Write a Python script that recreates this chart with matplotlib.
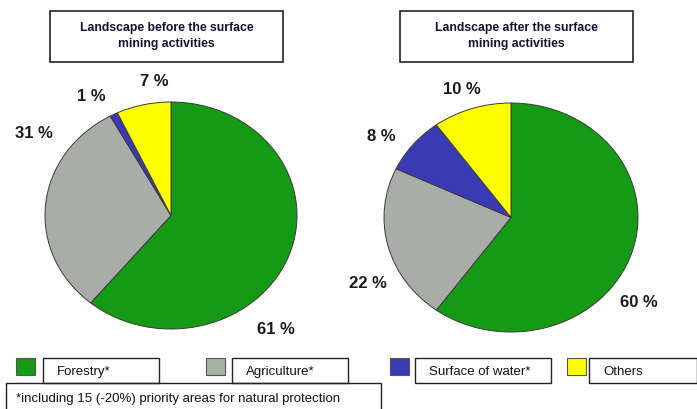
import matplotlib.pyplot as plt
from matplotlib.patches import Rectangle

# Land use shares (%) before / after surface mining
categories = ['Forestry*', 'Agriculture*', 'Surface of water*', 'Others']
before = [61, 31, 1, 7]
after = [60, 22, 8, 10]
colors = ['#159a15', '#a9ada7', '#3a3ab4', '#ffff00']
legend_colors = ['#159a15', '#a9b0a6', '#3a3ab4', '#ffff00']

titles = ['Landscape before the surface\nmining activities',
          'Landscape after the surface\nmining activities']
footnote = '*including 15 (-20%) priority areas for natural protection'

# label spots (pie axes units, radius = 1)
label_pos_before = [(0.83, -1.0), (-1.09, 0.73), (-0.63, 1.06), (-0.13, 1.19)]
label_pos_after = [(1.01, -0.73), (-1.13, -0.57), (-1.02, 0.72), (-0.39, 1.13)]

W, H = 697, 410
fig = plt.figure(figsize=(W / 100, H / 100), dpi=100)
plt.rcParams['font.family'] = ['Liberation Sans', 'DejaVu Sans']


def px_axes(x0, y0, x1, y1):
    # axes placed by pixel box (top-left origin)
    return fig.add_axes([x0 / W, 1 - y1 / H, (x1 - x0) / W, (y1 - y0) / H])


def draw_pie(ax, values, label_pos):
    ax.pie(values, colors=colors, startangle=90, counterclock=False,
           wedgeprops=dict(edgecolor='#3a3a3a', linewidth=0.7))
    ax.set_aspect('auto')
    ax.set_xlim(-1, 1)
    ax.set_ylim(-1, 1)
    ax.axis('off')
    for v, (x, y) in zip(values, label_pos):
        ax.text(x, y, f'{v} %', ha='center', va='center', fontsize=12,
                fontweight='bold', color='#1a1a1a', clip_on=False)


ax1 = px_axes(45, 103, 297, 330)
draw_pie(ax1, before, label_pos_before)
ax2 = px_axes(384, 104, 638, 333)
draw_pie(ax2, after, label_pos_after)

# overlay for title boxes and legend
ov = fig.add_axes([0, 0, 1, 1], zorder=-1)
ov.set_xlim(0, W)
ov.set_ylim(H, 0)
ov.axis('off')


def box(x0, y0, x1, y1, lw=1.0):
    ov.add_patch(Rectangle((x0, y0), x1 - x0, y1 - y0, fill=False,
                           edgecolor='#222222', linewidth=lw))


for (x0, x1), t in zip([(50, 283), (400, 633)], titles):
    box(x0, 12, x1, 63, lw=1.2)
    ov.text((x0 + x1) / 2, 36, t, ha='center', va='center', fontsize=8.8,
            fontweight='bold', color='#111133', linespacing=1.4)

swatches = [16, 206, 390, 567]
label_boxes = [(43, 159), (232, 348), (415, 551), (589, 697)]
for c, sx, (bx0, bx1), name in zip(legend_colors, swatches, label_boxes, categories):
    ov.add_patch(Rectangle((sx, 359), 19, 17, facecolor=c,
                           edgecolor='#555555', linewidth=0.8))
    box(bx0, 359, bx1, 384)
    ov.text(bx0 + 14, 372.5, name, ha='left', va='center', fontsize=9.5,
            color='#111111')

box(6, 384, 381, 412)
ov.text(16, 399, footnote, ha='left', va='center', fontsize=9.5, color='#111111')

fig.savefig('out.png', dpi=100)
